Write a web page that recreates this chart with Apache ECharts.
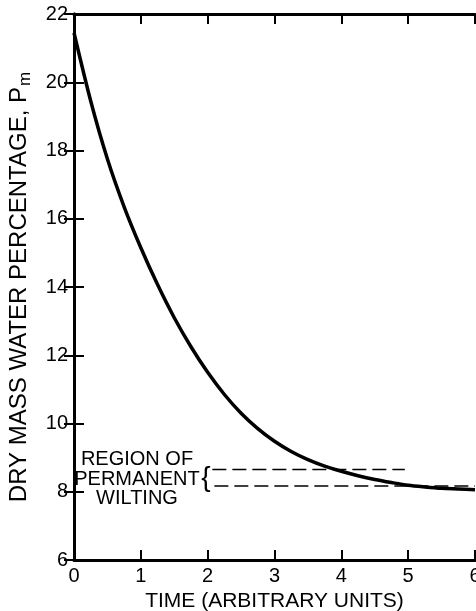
<!DOCTYPE html>
<html>
<head>
<meta charset="utf-8">
<script src="https://cdn.jsdelivr.net/npm/echarts@6/dist/echarts.min.js"></script>
<style>
html,body{margin:0;padding:0;background:#fff;}
#chart{width:476px;height:611px;}
</style>
</head>
<body>
<div id="chart"></div>
<script>
// Data
const timeVals = [0, 0.25, 0.5, 0.75, 1.0, 1.25, 1.5, 1.75, 2.0, 2.25, 2.5, 2.75, 3.0,
                  3.25, 3.5, 3.75, 4.0, 4.25, 4.5, 4.75, 5.0, 5.25, 5.5, 5.75, 6.0];
const waterPct = [21.45, 19.45, 17.75, 16.35, 15.15, 14.07, 13.1, 12.25, 11.5, 10.85, 10.3, 9.85, 9.48,
                  9.18, 8.94, 8.75, 8.6, 8.47, 8.36, 8.27, 8.19, 8.14, 8.1, 8.08, 8.06];
const upperWiltX = [2.07, 4.95];
const upperWiltY = 8.65;
const lowerWiltX = [2.1, 6.0];
const lowerWiltY = 8.17;
const xTickLabels = ['0', '1', '2', '3', '4', '5', '6'];
const yTickLabels = ['6', '8', '10', '12', '14', '16', '18', '20', '22'];

const FONT = "'Liberation Sans', Arial, Helvetica, sans-serif";
const chart = echarts.init(document.getElementById('chart'), null, {renderer: 'canvas'});

const axisLineStyle = {color: '#000', width: 3};
const tickStyle = {show: true, inside: true, length: 10, lineStyle: {color: '#000', width: 2}};

const curve = timeVals.map((t, i) => [t, waterPct[i]]);

chart.setOption({
  animation: false,
  backgroundColor: '#fff',
  grid: {left: 74, right: 1, top: 14, bottom: 51, containLabel: false, outerBoundsMode: 'none'},
  xAxis: [{
    type: 'value', min: 0, max: 6, interval: 1, position: 'bottom',
    axisLine: {show: true, lineStyle: axisLineStyle},
    axisTick: tickStyle,
    splitLine: {show: false},
    axisLabel: {
      color: '#000', fontSize: 20, fontFamily: FONT, margin: 6,
      formatter: v => xTickLabels[Math.round(v)]
    },
    name: 'TIME (ARBITRARY UNITS)',
    nameLocation: 'middle', nameGap: 31,
    nameTextStyle: {color: '#000', fontSize: 21, fontFamily: FONT}
  }, {
    type: 'value', min: 0, max: 6, interval: 1, position: 'top',
    axisLine: {show: true, lineStyle: axisLineStyle},
    axisTick: tickStyle,
    splitLine: {show: false},
    axisLabel: {show: false}
  }],
  yAxis: [{
    type: 'value', min: 6, max: 22, interval: 2, position: 'left',
    axisLine: {show: true, lineStyle: axisLineStyle},
    axisTick: tickStyle,
    splitLine: {show: false},
    axisLabel: {
      color: '#000', fontSize: 20, fontFamily: FONT, margin: 6,
      formatter: v => yTickLabels[Math.round((v - 6) / 2)]
    },
    name: '{a|DRY MASS WATER PERCENTAGE, P}{s|m}',
    nameLocation: 'middle', nameGap: 40,
    nameTextStyle: {
      color: '#000', fontFamily: FONT,
      rich: {
        a: {fontSize: 24, fontFamily: FONT, color: '#000', lineHeight: 30, verticalAlign: 'middle'},
        s: {fontSize: 17, fontFamily: FONT, color: '#000', lineHeight: 30, verticalAlign: 'bottom', padding: [0, 0, 0, 1]}
      }
    }
  }, {
    type: 'value', min: 6, max: 22, interval: 2, position: 'right',
    axisLine: {show: true, lineStyle: axisLineStyle},
    axisTick: tickStyle,
    splitLine: {show: false},
    axisLabel: {show: false}
  }],
  series: [{
    type: 'line', data: curve, smooth: 0.3, symbol: 'none',
    lineStyle: {color: '#000', width: 3.5}, z: 5
  }, {
    type: 'line', data: upperWiltX.map(x => [x, upperWiltY]), symbol: 'none',
    lineStyle: {color: '#000', width: 1.5, type: [14, 6]}
  }, {
    type: 'line', data: lowerWiltX.map(x => [x, lowerWiltY]), symbol: 'none',
    lineStyle: {color: '#000', width: 1.5, type: [14, 6]}
  }],
  graphic: [{
    type: 'text', x: 137, y: 479, z: 10,
    style: {
      text: 'REGION OF\nPERMANENT\nWILTING', align: 'center', verticalAlign: 'middle',
      fill: '#000', font: '20px ' + FONT, lineHeight: 19.5
    }
  }, {
    type: 'text', x: 206, y: 478, z: 10,
    style: {text: '{', fill: '#000', font: '28px ' + FONT, align: 'center', verticalAlign: 'middle'}
  }]
});
</script>
</body>
</html>
